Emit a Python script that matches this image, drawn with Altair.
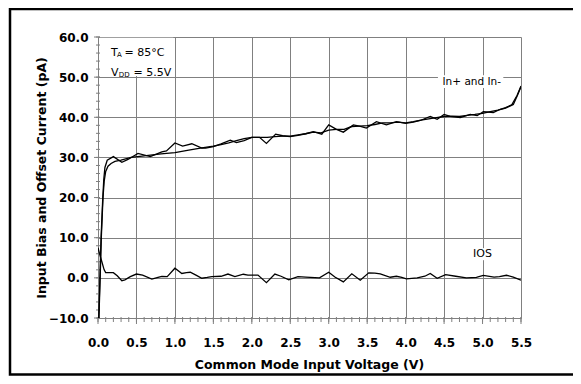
import altair as alt
import pandas as pd

# ---- data ----
in_plus_x = [0.01, 0.025, 0.04, 0.06, 0.075, 0.09, 0.12, 0.2, 0.31, 0.39, 0.52, 0.68, 0.83, 0.89,
             1.0, 1.1, 1.22, 1.35, 1.4, 1.5, 1.6, 1.72, 1.8, 1.9, 2.0, 2.1, 2.19, 2.31, 2.4, 2.5,
             2.6, 2.7, 2.8, 2.91, 3.0, 3.1, 3.19, 3.32, 3.4, 3.49, 3.62, 3.75, 3.88, 4.0, 4.1,
             4.19, 4.32, 4.41, 4.5, 4.58, 4.71, 4.84, 4.93, 5.01, 5.14, 5.23, 5.3, 5.38, 5.45, 5.5]
in_plus_y = [-10, 0, 10, 19, 24.5, 27.5, 29.3, 30.2, 28.8, 29.5, 31.0, 30.2, 31.4, 31.6,
             33.6, 32.8, 33.4, 32.3, 32.3, 32.7, 33.4, 34.3, 33.7, 34.2, 35.0, 35.0, 33.5, 35.8, 35.4, 35.2,
             35.5, 35.9, 36.4, 35.8, 38.1, 37.0, 36.3, 38.1, 37.8, 37.3, 38.9, 38.1, 38.9, 38.5, 38.8,
             39.2, 40.2, 39.5, 40.7, 40.2, 39.9, 40.7, 40.4, 41.4, 41.2, 42.0, 42.4, 43.1, 45.5, 47.8]

in_minus_x = [0.012, 0.028, 0.043, 0.065, 0.08, 0.1, 0.13, 0.17, 0.22, 0.3, 0.43, 0.6, 0.82,
              1.0, 1.18, 1.35, 1.5, 1.6, 1.7, 1.8, 1.9, 2.0, 2.1, 2.2, 2.3, 2.4, 2.5, 2.6, 2.7,
              2.8, 2.9, 3.0, 3.1, 3.2, 3.3, 3.4, 3.5, 3.6, 3.7, 3.8, 3.9, 4.0, 4.1, 4.2, 4.3,
              4.4, 4.5, 4.6, 4.7, 4.8, 4.9, 5.0, 5.1, 5.2, 5.3, 5.4, 5.45, 5.5]
in_minus_y = [-10, 0, 10, 20, 24, 26.5, 27.8, 28.5, 29.0, 29.3, 30.0, 30.4, 30.9,
              31.2, 31.8, 32.4, 32.8, 33.2, 33.6, 34.2, 34.7, 35.0, 35.0, 35.0, 35.2, 35.3, 35.3, 35.6, 35.9,
              36.3, 36.1, 36.8, 37.0, 37.0, 37.7, 37.8, 37.9, 38.2, 38.6, 38.6, 38.8, 38.6, 38.9, 39.3, 39.6,
              39.9, 40.2, 40.3, 40.2, 40.5, 40.7, 41.0, 41.4, 41.8, 42.3, 43.2, 45.3, 47.6]

ios_x = [0.0, 0.02, 0.05, 0.08, 0.1, 0.15, 0.2, 0.25, 0.31, 0.35, 0.42, 0.5, 0.58, 0.7, 0.78,
         0.83, 0.9, 1.0, 1.09, 1.15, 1.2, 1.28, 1.35, 1.42, 1.48, 1.6, 1.69, 1.78, 1.89, 1.95,
         2.08, 2.19, 2.3, 2.38, 2.48, 2.6, 2.7, 2.88, 3.0, 3.08, 3.19, 3.3, 3.41, 3.52, 3.6,
         3.67, 3.8, 3.88, 3.95, 4.01, 4.15, 4.25, 4.32, 4.41, 4.52, 4.65, 4.79, 4.92, 5.01,
         5.15, 5.22, 5.31, 5.4, 5.5]
ios_y = [7.5, 6.0, 4.0, 2.0, 1.3, 1.3, 1.3, 0.5, -0.7, -0.5, 0.3, 0.95, 0.7, -0.3, 0.1,
         0.35, 0.3, 2.4, 1.1, 1.3, 1.4, 0.6, -0.1, 0.1, 0.3, 0.4, 0.95, 0.3, 0.9, 0.7,
         0.7, -1.2, 0.95, 0.4, -0.5, 0.3, 0.2, 0.0, 1.4, 0.2, -1.0, 1.0, -0.6, 1.25, 1.2,
         1.0, 0.15, 0.4, 0.1, -0.25, 0.0, 0.4, 1.1, -0.1, 0.8, 0.4, 0.0, 0.1, 0.6,
         0.2, 0.3, 0.65, 0.2, -0.6]

x_ticks = [0.0, 0.5, 1.0, 1.5, 2.0, 2.5, 3.0, 3.5, 4.0, 4.5, 5.0, 5.5]
y_ticks = [-10, 0, 10, 20, 30, 40, 50, 60]
x_minor = [0.0, 0.1, 0.2, 0.3, 0.4, 0.5, 0.6, 0.7, 0.8, 0.9, 1.0, 1.1, 1.2, 1.3, 1.4, 1.5,
           1.6, 1.7, 1.8, 1.9, 2.0, 2.1, 2.2, 2.3, 2.4, 2.5, 2.6, 2.7, 2.8, 2.9, 3.0, 3.1,
           3.2, 3.3, 3.4, 3.5, 3.6, 3.7, 3.8, 3.9, 4.0, 4.1, 4.2, 4.3, 4.4, 4.5, 4.6, 4.7,
           4.8, 4.9, 5.0, 5.1, 5.2, 5.3, 5.4, 5.5]
y_minor = [-10, -8, -6, -4, -2, 0, 2, 4, 6, 8, 10, 12, 14, 16, 18, 20, 22, 24, 26, 28, 30,
           32, 34, 36, 38, 40, 42, 44, 46, 48, 50, 52, 54, 56, 58, 60]

# ---- tables ----
rows = []
for name, xs_, ys_ in [("In+", in_plus_x, in_plus_y), ("In-", in_minus_x, in_minus_y), ("IOS", ios_x, ios_y)]:
    for i, (a, b) in enumerate(zip(xs_, ys_)):
        rows.append({"x": a, "y": b, "s": name, "o": i})
lines_df = pd.DataFrame(rows)

GRID = "#808080"
FONT = "DejaVu Sans"
W, H = 423, 281

xs = alt.Scale(domain=[0, 5.5], nice=False, zero=False)
ys = alt.Scale(domain=[-10, 60], nice=False, zero=False)

x_axis = alt.Axis(values=x_ticks, format=".1f", ticks=False, grid=True, gridColor=GRID,
                  gridOpacity=1, gridWidth=1, domainColor=GRID, domainWidth=1,
                  labelFont=FONT, labelFontWeight="bold", labelFontSize=12, labelColor="black",
                  labelBaseline="middle", labelPadding=24, labelFlush=False, labelOverlap=False,
                  title="Common Mode Input Voltage (V)", titleFont=FONT, titleFontWeight="bold",
                  titleFontSize=12.5, titleColor="black", titleBaseline="middle",
                  titleX=211, titleY=46)
y_axis = alt.Axis(values=y_ticks, format=".1f", ticks=False, grid=True, gridColor=GRID,
                  gridOpacity=1, gridWidth=1, domainColor=GRID, domainWidth=1,
                  labelFont=FONT, labelFontWeight="bold", labelFontSize=12, labelColor="black",
                  labelPadding=10, labelFlush=False, labelOverlap=False,
                  title="Input Bias and Offset Current (pA)", titleFont=FONT, titleFontWeight="bold",
                  titleFontSize=12.5, titleColor="black", titleBaseline="middle",
                  titleX=-57, titleY=140.5, titleAngle=-90)


def X(field="x"):
    return alt.X(f"{field}:Q", scale=xs, axis=x_axis)


def Y(field="y"):
    return alt.Y(f"{field}:Q", scale=ys, axis=y_axis)


lines = alt.Chart(lines_df).mark_line(color="black", strokeWidth=1.3, clip=True).encode(
    x=X(), y=Y(), detail="s:N", order="o:Q")

one = pd.DataFrame({"k": [0]})

frame = alt.Chart(one).mark_rect(filled=False, stroke="black", strokeWidth=2.5).encode(
    x=alt.value(-88), x2=alt.value(520), y=alt.value(-28), y2=alt.value(337.5))

boxes_df = pd.DataFrame({
    "x": [0.02, 4.42, 4.85],
    "x2": [0.98, 5.27, 5.15],
    "y": [50.3, 47.3, 4.4],
    "y2": [59.8, 50.5, 7.4],
})
boxes = alt.Chart(boxes_df).mark_rect(color="white").encode(
    x=X(), x2="x2:Q", y=Y(), y2="y2:Q")

xminor_df = pd.DataFrame({"x": x_minor})
xmaj_df = pd.DataFrame({"x": x_ticks})
yminor_df = pd.DataFrame({"y": y_minor})
ymaj_df = pd.DataFrame({"y": y_ticks})

xminor = alt.Chart(xminor_df).mark_rule(color=GRID, strokeWidth=1).encode(
    x=X(), y=alt.value(H - 1), y2=alt.value(H + 4))
xmajor = alt.Chart(xmaj_df).mark_rule(color=GRID, strokeWidth=1).encode(
    x=X(), y=alt.value(H - 1), y2=alt.value(H + 6))
yminor = alt.Chart(yminor_df).mark_rule(color=GRID, strokeWidth=1).encode(
    y=Y(), x=alt.value(-2), x2=alt.value(2))
ymajor = alt.Chart(ymaj_df).mark_rule(color=GRID, strokeWidth=1).encode(
    y=Y(), x=alt.value(-4), x2=alt.value(2))


def ptext(txt, px, py, size=11):
    return alt.Chart(one).mark_text(text=txt, font=FONT, fontSize=size, color="black",
                                    align="left", baseline="alphabetic").encode(
        x=alt.value(px), y=alt.value(py))


ta = ptext("T", 13, 18.7) + ptext("A", 19.0, 20.2, 7) + ptext("= 85°C", 26.5, 18.7)
vdd = ptext("V", 13, 38.7) + ptext("DD", 20.8, 40.2, 7) + ptext("= 5.5V", 35.5, 38.7)

lab_df = pd.DataFrame({"x": [4.86, 5.0], "y": [48.9, 5.85], "t": ["In+ and In-", "IOS"],
                       "fs": [10.5, 11]})
labels = alt.Chart(lab_df).mark_text(font=FONT, color="black", align="center",
                                     baseline="middle").encode(
    x=X(), y=Y(), text="t:N",
    size=alt.Size("fs:Q", scale=None, legend=None))

chart = alt.layer(
    frame, boxes, xminor, xmajor, yminor, ymajor, lines, ta, vdd, labels
).properties(
    width=W, height=H,
    autosize=alt.AutoSizeParams(type="none"),
    padding={"left": 90, "top": 29, "right": 52, "bottom": 58},
    background="white",
).configure_view(strokeWidth=0)

chart.save("out.html", embed_options={"renderer": "svg", "actions": False})
